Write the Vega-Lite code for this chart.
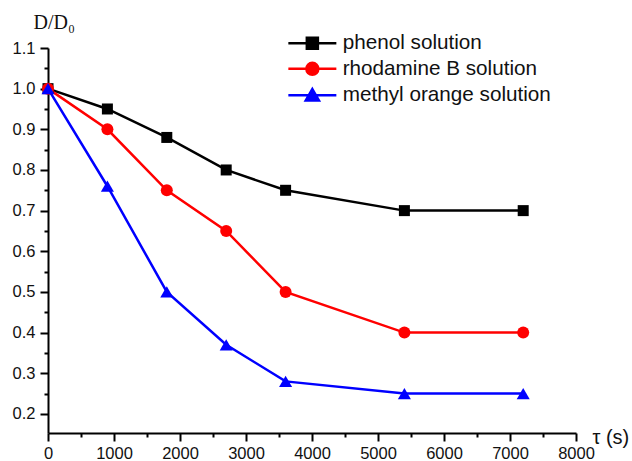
{
  "$schema": "https://vega.github.io/schema/vega-lite/v6.json",
  "width": 528,
  "height": 385,
  "autosize": "none",
  "padding": {"left": 48, "top": 48, "right": 56, "bottom": 28},
  "background": "white",
  "config": {"view": {"stroke": null}},
  "data": {
    "values": [
      {"t": 0, "d": 1.0, "s": "phenol solution"},
      {"t": 900, "d": 0.95, "s": "phenol solution"},
      {"t": 1800, "d": 0.88, "s": "phenol solution"},
      {"t": 2700, "d": 0.80, "s": "phenol solution"},
      {"t": 3600, "d": 0.75, "s": "phenol solution"},
      {"t": 5400, "d": 0.70, "s": "phenol solution"},
      {"t": 7200, "d": 0.70, "s": "phenol solution"},
      {"t": 0, "d": 1.0, "s": "rhodamine B solution"},
      {"t": 900, "d": 0.90, "s": "rhodamine B solution"},
      {"t": 1800, "d": 0.75, "s": "rhodamine B solution"},
      {"t": 2700, "d": 0.65, "s": "rhodamine B solution"},
      {"t": 3600, "d": 0.50, "s": "rhodamine B solution"},
      {"t": 5400, "d": 0.40, "s": "rhodamine B solution"},
      {"t": 7200, "d": 0.40, "s": "rhodamine B solution"},
      {"t": 0, "d": 1.0, "s": "methyl orange solution"},
      {"t": 900, "d": 0.76, "s": "methyl orange solution"},
      {"t": 1800, "d": 0.50, "s": "methyl orange solution"},
      {"t": 2700, "d": 0.37, "s": "methyl orange solution"},
      {"t": 3600, "d": 0.28, "s": "methyl orange solution"},
      {"t": 5400, "d": 0.25, "s": "methyl orange solution"},
      {"t": 7200, "d": 0.25, "s": "methyl orange solution"}
    ]
  },
  "encoding": {
    "x": {
      "field": "t", "type": "quantitative",
      "scale": {"domain": [0, 8000], "nice": false, "zero": false},
      "axis": {
        "values": [0,500,1000,1500,2000,2500,3000,3500,4000,4500,5000,5500,6000,6500,7000,7500,8000],
        "format": "d",
        "labelExpr": "datum.value % 1000 === 0 ? datum.label : ''",
        "tickSize": {"condition": {"test": "datum.value % 1000 === 0", "value": 8}, "value": 4},
        "tickWidth": 2, "tickColor": "black",
        "domainWidth": 2, "domainColor": "black",
        "grid": false,
        "labelFont": "Liberation Sans", "labelFontSize": 16.5, "labelColor": "#111",
        "labelPadding": 4, "labelFlush": false, "labelOverlap": false,
        "title": "τ (s)",
        "titleFont": "Liberation Sans", "titleFontSize": 20, "titleFontWeight": "normal", "titleColor": "#111",
        "titleAlign": "left", "titleBaseline": "alphabetic", "titleAnchor": null,
        "titleX": 544, "titleY": 10
      }
    },
    "y": {
      "field": "d", "type": "quantitative",
      "scale": {"domain": [0.153, 1.1], "nice": false, "zero": false},
      "axis": {
        "values": [0.2,0.25,0.3,0.35,0.4,0.45,0.5,0.55,0.6,0.65,0.7,0.75,0.8,0.85,0.9,0.95,1.0,1.05,1.1],
        "format": ".1f",
        "labelExpr": "abs(datum.value*10 - round(datum.value*10)) < 0.001 ? datum.label : ''",
        "tickSize": {"condition": {"test": "abs(datum.value*10 - round(datum.value*10)) < 0.001", "value": 8}, "value": 4},
        "tickWidth": 2, "tickColor": "black",
        "domainWidth": 2, "domainColor": "black",
        "grid": false,
        "labelFont": "Liberation Sans", "labelFontSize": 16.5, "labelColor": "#111",
        "labelPadding": 5, "labelFlush": false, "labelOverlap": false,
        "title": "D/D₀",
        "titleFont": "Liberation Serif", "titleFontSize": 20, "titleFontWeight": "normal", "titleColor": "#111",
        "titleAngle": 0, "titleAlign": "left", "titleBaseline": "alphabetic", "titleAnchor": null,
        "titleX": -15, "titleY": -20
      }
    },
    "color": {
      "field": "s", "type": "nominal",
      "scale": {"domain": ["phenol solution", "rhodamine B solution", "methyl orange solution"], "range": ["#000000", "#ff0000", "#0000ff"]},
      "legend": {
        "orient": "none", "legendX": 254, "legendY": -15,
        "title": null, "padding": 0, "rowPadding": 3.5,
        "symbolSize": 144, "symbolStrokeWidth": 2.5, "symbolOpacity": 1,
        "labelFont": "Liberation Sans", "labelFontSize": 20.7, "labelColor": "#111",
        "labelOffset": 20, "labelBaseline": "middle", "labelLimit": 400,
        "encode": {
          "symbols": {
            "update": {
              "shape": {"signal": "datum.value === 'phenol solution' ? 'M-4,0H4M-0.92,-0.92H0.92V0.92H-0.92Z' : datum.value === 'rhodamine B solution' ? 'M-4,0H4M-1,0A1,1 0 1,0 1,0A1,1 0 1,0 -1,0Z' : 'M-4,0H4M0,-1.05L1.1,0.85H-1.1Z'"},
              "fill": {"scale": "color", "field": "value"},
              "stroke": {"scale": "color", "field": "value"},
              "strokeWidth": {"value": 2.5},
              "opacity": {"value": 1}
            }
          }
        }
      }
    }
  },
  "layer": [
    {"mark": {"type": "line", "strokeWidth": 2.5}},
    {
      "transform": [{"filter": "datum.s === 'phenol solution'"}],
      "mark": {"type": "point", "filled": true, "opacity": 1, "shape": "square", "size": 121}
    },
    {
      "transform": [{"filter": "datum.s === 'rhodamine B solution'"}],
      "mark": {"type": "point", "filled": true, "opacity": 1, "shape": "circle", "size": 144}
    },
    {
      "transform": [{"filter": "datum.s === 'methyl orange solution'"}],
      "mark": {"type": "point", "filled": true, "opacity": 1, "shape": "triangle-up", "size": 170}
    }
  ]
}
